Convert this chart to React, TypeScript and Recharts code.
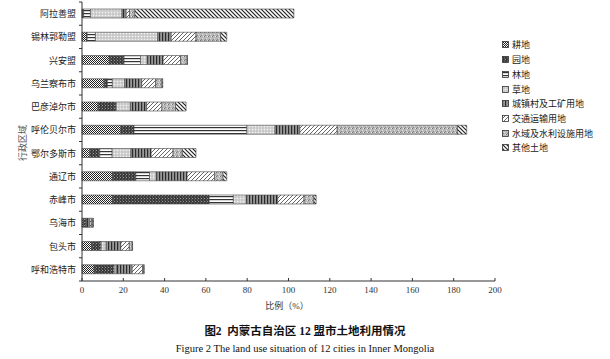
import { Bar, BarChart, XAxis, YAxis } from "recharts";

const cities = [
  "阿拉善盟",
  "锡林郭勒盟",
  "兴安盟",
  "乌兰察布市",
  "巴彦淖尔市",
  "呼伦贝尔市",
  "鄂尔多斯市",
  "通辽市",
  "赤峰市",
  "乌海市",
  "包头市",
  "呼和浩特市",
];

const landTypes = [
  "耕地",
  "园地",
  "林地",
  "草地",
  "城镇村及工矿用地",
  "交通运输用地",
  "水域及水利设施用地",
  "其他土地",
];

// values per city, same order as cities (%)
const gengdi = [0.4, 2.2, 13.2, 10.7, 7.8, 18.8, 3.8, 14.7, 14.7, 0.6, 4.6, 5.9];
const yuandi = [0.4, 0.3, 7.2, 1.6, 8.5, 6.4, 4.8, 11.4, 46.9, 1.2, 4.2, 9.2];
const lindi = [3.3, 4.0, 8.0, 2.4, 0.3, 54.6, 6.0, 6.6, 11.7, 0.3, 0.5, 0.5];
const caodi = [15.3, 30.2, 3.2, 6.0, 6.8, 13.7, 9.1, 3.3, 6.3, 0.3, 2.4, 1.0];
const chengzhen = [2.0, 6.5, 7.7, 8.2, 7.9, 12.0, 9.8, 14.9, 15.2, 1.5, 7.1, 7.7];
const jiaotong = [1.6, 12.0, 8.4, 6.7, 7.4, 18.1, 10.6, 13.3, 12.7, 0.8, 4.1, 5.0];
const shuiyu = [2.6, 12.0, 3.2, 3.2, 6.6, 58.2, 4.5, 4.1, 4.8, 0.6, 1.4, 0.6];
const qita = [77.0, 2.9, 0.2, 0.3, 5.1, 4.5, 6.6, 1.8, 1.1, 0.2, 0.2, 0.2];

const xTicks = [0, 20, 40, 60, 80, 100, 120, 140, 160, 180, 200];

const series = [gengdi, yuandi, lindi, caodi, chengzhen, jiaotong, shuiyu, qita];

const data = cities.map((city, i) => {
  const row: Record<string, string | number> = { city };
  series.forEach((s, k) => {
    row["s" + k] = s[i];
  });
  return row;
});

const CN = '"Noto Sans CJK SC", sans-serif';
const SERIF = '"Liberation Serif", "Noto Sans CJK SC", serif';

const PLOT_TOP = 2;
const PLOT_BOTTOM = 281;
const BAND = (PLOT_BOTTOM - PLOT_TOP) / cities.length;

function Patterns() {
  return (
    <svg width={0} height={0} style={{ position: "absolute" }}>
      <defs>
        {/* 耕地 */}
        <pattern id="p0" width={2} height={2} patternUnits="userSpaceOnUse">
          <rect width={2} height={2} fill="#fff" />
          <rect width={1} height={1} fill="#222" />
          <rect x={1} y={1} width={1} height={1} fill="#222" />
        </pattern>
        {/* 园地 */}
        <pattern id="p1" width={3} height={3} patternUnits="userSpaceOnUse">
          <rect width={3} height={3} fill="#3a3a3a" />
          <rect width={1} height={1} fill="#999" />
          <rect x={2} y={1.5} width={1} height={1} fill="#777" />
        </pattern>
        {/* 林地 */}
        <pattern id="p2" width={4} height={3} patternUnits="userSpaceOnUse">
          <rect width={4} height={3} fill="#fff" />
          <rect y={1} width={4} height={1.2} fill="#333" />
        </pattern>
        {/* 草地 */}
        <pattern id="p3" width={3} height={3} patternUnits="userSpaceOnUse">
          <rect width={3} height={3} fill="#d4d4d4" />
          <rect width={1} height={1} fill="#f4f4f4" />
          <rect x={1.5} y={1.5} width={1} height={1} fill="#a8a8a8" />
        </pattern>
        {/* 城镇村及工矿用地 */}
        <pattern id="p4" width={3} height={4} patternUnits="userSpaceOnUse">
          <rect width={3} height={4} fill="#999" />
          <rect width={1.2} height={4} fill="#2a2a2a" />
        </pattern>
        {/* 交通运输用地 */}
        <pattern id="p5" width={4} height={4} patternUnits="userSpaceOnUse">
          <rect width={4} height={4} fill="#fff" />
          <path d="M-1,1 L1,-1 M0,4 L4,0 M3,5 L5,3" stroke="#666" strokeWidth={1} />
        </pattern>
        {/* 水域及水利设施用地 */}
        <pattern id="p6" width={4} height={4} patternUnits="userSpaceOnUse">
          <rect width={4} height={4} fill="#b8b8b8" />
          <rect width={1} height={1} fill="#777" />
          <rect x={2} y={2} width={1} height={1} fill="#e0e0e0" />
          <rect x={3} y={0} width={1} height={1} fill="#e8e8e8" />
          <rect x={1} y={3} width={1} height={1} fill="#888" />
        </pattern>
        {/* 其他土地 */}
        <pattern id="p7" width={4} height={4} patternUnits="userSpaceOnUse">
          <rect width={4} height={4} fill="#fff" />
          <path d="M-1,3 L1,5 M0,0 L4,4 M3,-1 L5,1" stroke="#222" strokeWidth={1.2} />
        </pattern>
      </defs>
    </svg>
  );
}

function CityTick(props: any) {
  const { x, y, payload, index } = props;
  return (
    <g>
      <text
        x={x - 6}
        y={y}
        textAnchor="end"
        dominantBaseline="central"
        fontSize={9}
        fontFamily={CN}
        fill="#222"
      >
        {payload.value}
      </text>
      <line x1={x - 3} x2={x} y1={y - BAND / 2} y2={y - BAND / 2} stroke="#333" />
      {index === cities.length - 1 && (
        <line x1={x - 3} x2={x} y1={y + BAND / 2} y2={y + BAND / 2} stroke="#333" />
      )}
    </g>
  );
}

function ValueTick(props: any) {
  const { x, y, payload } = props;
  return (
    <g>
      <line x1={x} x2={x} y1={y} y2={y - 3} stroke="#333" />
      <text x={x} y={y + 12} textAnchor="middle" fontSize={9} fontFamily={SERIF} fill="#333">
        {payload.value}
      </text>
    </g>
  );
}

function LegendBox() {
  return (
    <div
      style={{
        position: "absolute",
        left: 502,
        top: 37.6,
        width: 108,
        fontFamily: CN,
        fontSize: 9,
        color: "#222",
      }}
    >
      {landTypes.map((name, k) => (
        <div key={name} style={{ display: "flex", alignItems: "center", height: 14.7 }}>
          <svg width={7} height={7} style={{ marginRight: 3 }}>
            <rect x={0.5} y={0.5} width={6} height={6} fill={`url(#p${k})`} stroke="#333" strokeWidth={0.8} />
          </svg>
          <span>{name}</span>
        </div>
      ))}
    </div>
  );
}

export default function App() {
  return (
    <div style={{ position: "absolute", left: 0, top: 0, width: 610, height: 359, background: "#fff" }}>
      <Patterns />
      <BarChart
        width={610}
        height={310}
        data={data}
        layout="vertical"
        barSize={9}
        margin={{ top: PLOT_TOP, right: 115, bottom: 0, left: 0 }}
      >
        <XAxis
          type="number"
          domain={[0, 200]}
          ticks={xTicks}
          interval={0}
          height={29}
          tickSize={0}
          tickMargin={0}
          tickLine={false}
          tick={<ValueTick />}
          stroke="#333"
        />
        <YAxis
          type="category"
          dataKey="city"
          width={82}
          interval={0}
          tickSize={0}
          tickMargin={0}
          tickLine={false}
          tick={<CityTick />}
          stroke="#333"
        />
        {landTypes.map((name, k) => (
          <Bar
            key={name}
            dataKey={"s" + k}
            name={name}
            stackId="a"
            fill={`url(#p${k})`}
            stroke="#444"
            strokeWidth={0.6}
            isAnimationActive={false}
          />
        ))}
      </BarChart>
      <LegendBox />
      <div
        style={{
          position: "absolute",
          left: 22,
          top: 143,
          transform: "translate(-50%, -50%) rotate(-90deg)",
          fontFamily: CN,
          fontSize: 9,
          color: "#555",
          whiteSpace: "nowrap",
        }}
      >
        行政区域
      </div>
      <div
        style={{
          position: "absolute",
          left: 287,
          top: 305,
          transform: "translate(-50%, -50%)",
          fontFamily: SERIF,
          fontSize: 9,
          color: "#333",
          whiteSpace: "nowrap",
        }}
      >
        比例（%）
      </div>
      <div
        style={{
          position: "absolute",
          left: 305,
          top: 330,
          transform: "translate(-50%, -50%)",
          fontFamily: SERIF,
          fontSize: 11.5,
          fontWeight: "bold",
          color: "#111",
          whiteSpace: "nowrap",
        }}
      >
        图2&nbsp;&nbsp;内蒙古自治区 12 盟市土地利用情况
      </div>
      <div
        style={{
          position: "absolute",
          left: 305,
          top: 348,
          transform: "translate(-50%, -50%)",
          fontFamily: SERIF,
          fontSize: 10.5,
          color: "#111",
          whiteSpace: "nowrap",
        }}
      >
        Figure 2 The land use situation of 12 cities in Inner Mongolia
      </div>
    </div>
  );
}
